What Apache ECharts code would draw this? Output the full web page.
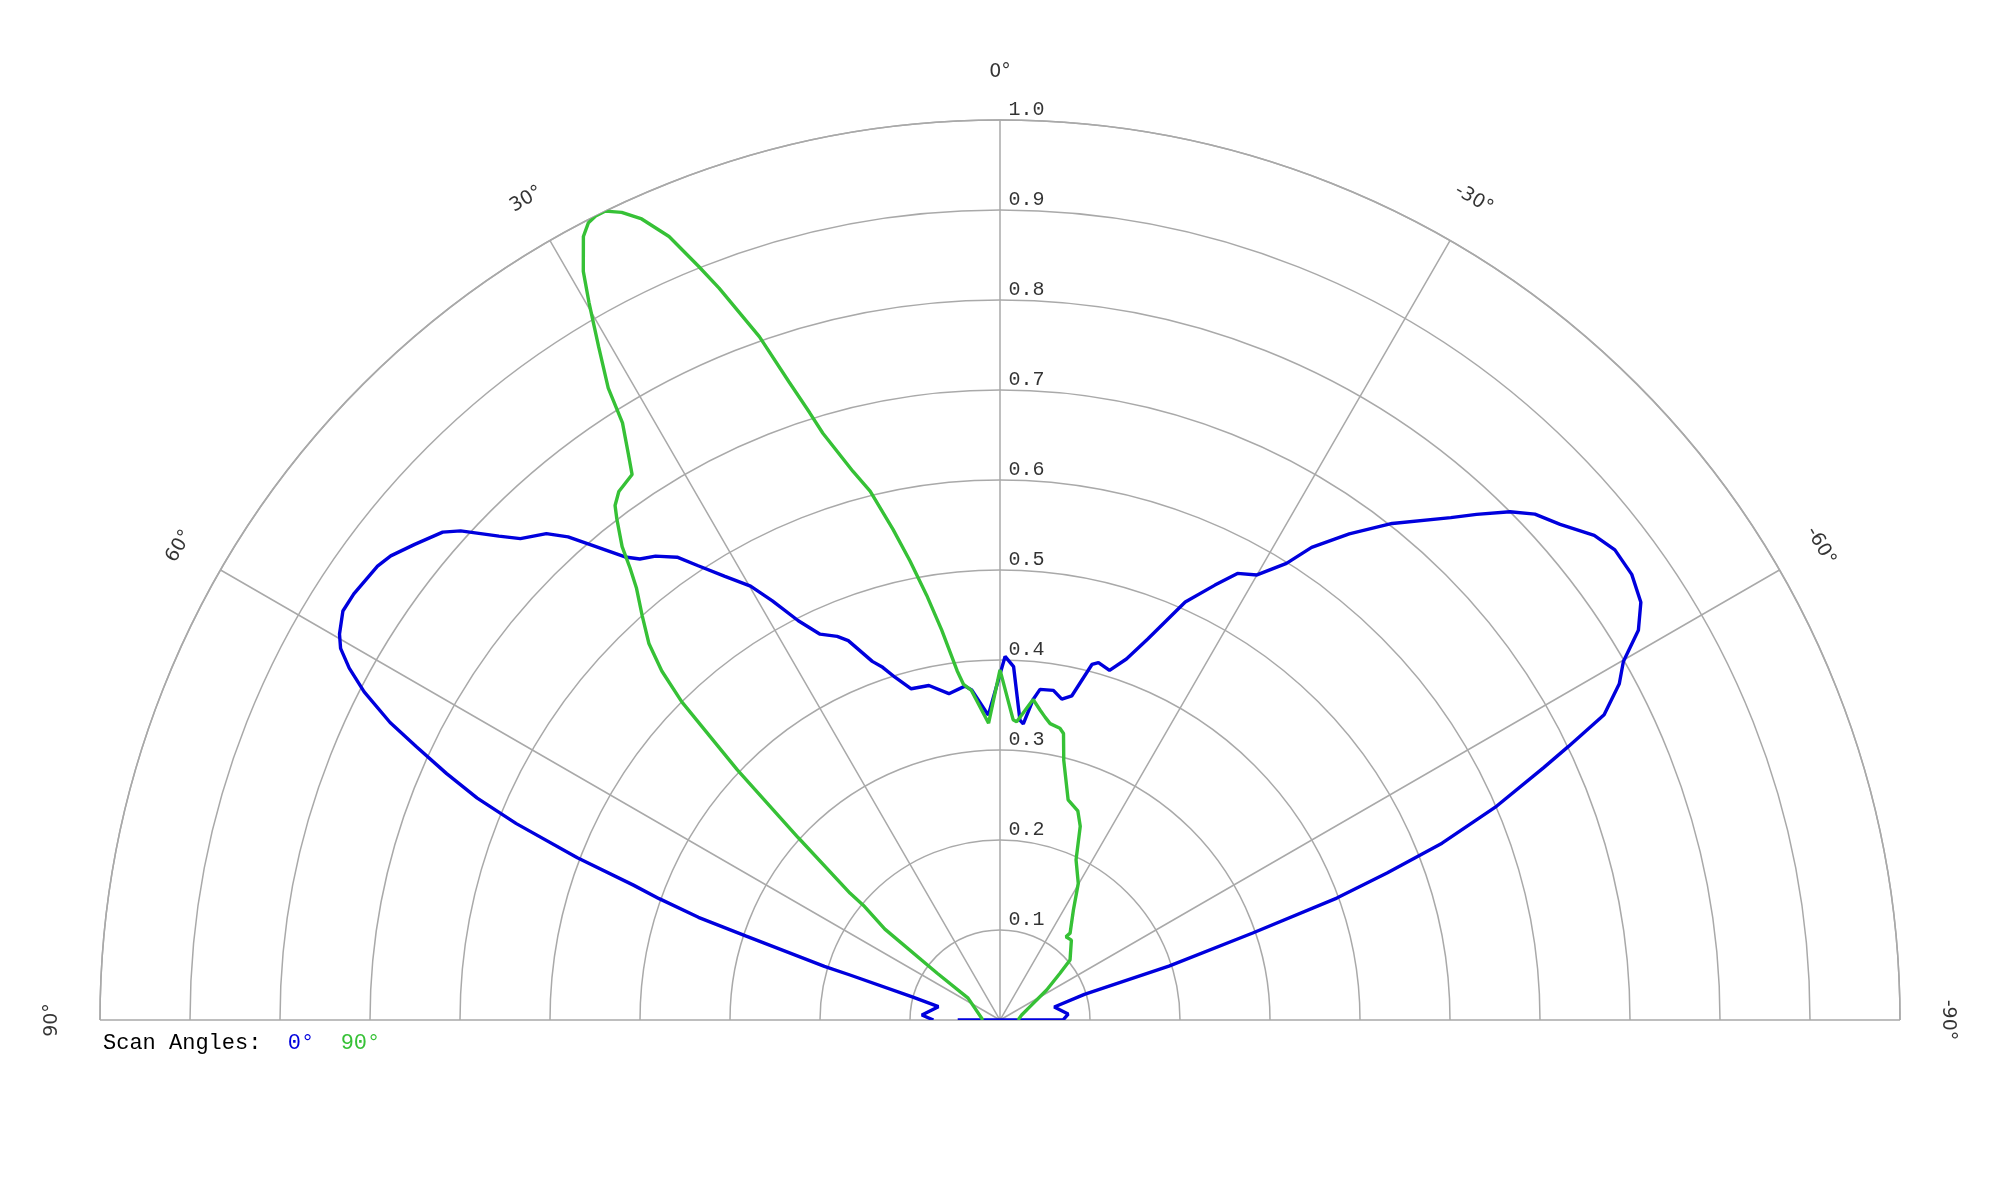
<!DOCTYPE html>
<html><head><meta charset="utf-8">
<script src="https://cdn.jsdelivr.net/npm/echarts@6/dist/echarts.min.js"></script>
<style>html,body{margin:0;padding:0;background:#fff}#c{width:2000px;height:1200px}</style>
</head><body><div id="c"></div><script>
// ---- data ----
const angleTicks = [90, 60, 30, 0, -30, -60, -90];
const angleTickLabels = ['90°', '60°', '30°', '0°', '-30°', '-60°', '-90°'];
const ringValues = [0.1, 0.2, 0.3, 0.4, 0.5, 0.6, 0.7, 0.8, 0.9, 1.0];
const ringLabels = ['0.1', '0.2', '0.3', '0.4', '0.5', '0.6', '0.7', '0.8', '0.9', '1.0'];
const legendTitle = 'Scan Angles:';
const seriesNames = ['0°', '90°'];

// Scan angle 0° (blue): pattern angle (deg) and normalized level
const blueAngles = [90, 86.3, 77.8, 75.3, 73.3, 73.0, 71.7, 71.2, 70.4, 69.8, 69.0, 67.9, 67.0, 66.0, 64.9, 64.0, 62.7, 61.6, 60.6, 59.7, 58.1, 56.6, 53.9, 52.7, 50.9, 48.8, 47.8, 46.0, 44.9, 43.0, 41.8, 40.8, 39.0, 38.0, 36.6, 34.9, 33.6, 31.8, 29.9, 28.5, 26.8, 25.0, 23.0, 21.8, 19.6, 18.4, 17.0, 15.0, 12.0, 8.9, 6.0, 4.9, 2.2, -0.8, -2.2, -3.8, -4.5, -5.9, -6.9, -9.2, -10.9, -12.5, -14.5, -15.4, -17.4, -19.3, -21.2, -23.9, -26.3, -28.0, -30.0, -32.1, -33.4, -35.7, -38.3, -41.9, -43.3, -45.1, -46.6, -48.5, -50.8, -52.6, -54.8, -56.9, -58.6, -60.1, -61.5, -63.2, -64.3, -65.1, -66.7, -68.2, -69.2, -70.1, -71.0, -72.3, -73.1, -76.5, -85.0, -90, 90];
const blueRadii = [0.074, 0.087, 0.070, 0.100, 0.174, 0.204, 0.297, 0.354, 0.402, 0.434, 0.503, 0.580, 0.631, 0.673, 0.716, 0.754, 0.795, 0.822, 0.841, 0.850, 0.860, 0.860, 0.856, 0.851, 0.838, 0.823, 0.809, 0.774, 0.755, 0.739, 0.720, 0.698, 0.662, 0.650, 0.642, 0.627, 0.606, 0.580, 0.556, 0.530, 0.497, 0.473, 0.463, 0.454, 0.423, 0.413, 0.398, 0.381, 0.380, 0.367, 0.373, 0.368, 0.339, 0.404, 0.393, 0.334, 0.330, 0.358, 0.370, 0.371, 0.363, 0.369, 0.408, 0.412, 0.407, 0.425, 0.454, 0.508, 0.539, 0.562, 0.571, 0.599, 0.629, 0.665, 0.703, 0.750, 0.772, 0.800, 0.818, 0.831, 0.852, 0.860, 0.859, 0.850, 0.831, 0.799, 0.783, 0.752, 0.701, 0.666, 0.601, 0.529, 0.460, 0.398, 0.297, 0.197, 0.098, 0.062, 0.076, 0.070, 0.047];

// Scan angle 90° (green)
const greenAngles = [90, 84.7, 55.6, 53.3, 51.7, 50.0, 49.8, 47.9, 46.4, 45.0, 44.1, 43.0, 41.5, 40.1, 39.3, 38.6, 37.4, 36.8, 35.8, 34.0, 33.3, 32.3, 31.8, 30.8, 29.8, 29.1, 28.0, 27.3, 26.7, 26.0, 25.1, 24.1, 22.9, 21.8, 21.0, 19.4, 18.3, 17.4, 16.8, 15.0, 13.8, 12.3, 11.1, 9.8, 8.5, 7.0, 6.2, 5.0, 2.2, 0, -2.5, -3.2, -5.9, -7.4, -8.5, -9.6, -11.6, -12.5, -13.8, -17.2, -20.4, -22.5, -25.4, -29.8, -33.7, -38.9, -38.4, -41.8, -49.4, -52.1, -57.3, -66.0, -77.0, -90];
const greenRadii = [0.019, 0.021, 0.043, 0.087, 0.163, 0.198, 0.218, 0.302, 0.403, 0.500, 0.540, 0.572, 0.600, 0.627, 0.649, 0.673, 0.701, 0.714, 0.724, 0.731, 0.752, 0.785, 0.826, 0.871, 0.919, 0.952, 0.986, 0.997, 1.0, 1.0, 0.991, 0.975, 0.945, 0.902, 0.871, 0.805, 0.747, 0.707, 0.681, 0.631, 0.605, 0.558, 0.520, 0.479, 0.438, 0.391, 0.375, 0.368, 0.330, 0.389, 0.334, 0.332, 0.358, 0.347, 0.340, 0.334, 0.331, 0.326, 0.297, 0.256, 0.248, 0.233, 0.197, 0.175, 0.147, 0.124, 0.118, 0.119, 0.1025, 0.0845, 0.0616, 0.0365, 0.0247, 0.020];

// ---- chart ----
const MONO = '"Liberation Mono", "Courier New", monospace';
const SANS = '"DejaVu Sans", Verdana, sans-serif';
const GRID = '#a9a9a9';
const BLUE = '#0000dd';
const GREEN = '#36c136';
const LABEL_R = 1.053;

const toPolar = (angles, radii) => angles.map((a, i) => [radii[i], a]);

const angleLabelData = angleTicks.map((a, i) => ({
  value: [LABEL_R, a],
  label: { formatter: angleTickLabels[i], rotate: a }
}));
const ringLabelData = ringValues.map((v, i) => ({
  value: [v, 0],
  label: { formatter: ringLabels[i] }
}));

const chart = echarts.init(document.getElementById('c'), null, { renderer: 'canvas' });
chart.setOption({
  animation: false,
  backgroundColor: '#ffffff',
  title: {
    text: '{a|' + legendTitle + '}  {b|' + seriesNames[0] + '}  {c|' + seriesNames[1] + '}',
    left: 103, top: 1032, padding: 0,
    textStyle: {
      fontFamily: MONO, fontSize: 22, fontWeight: 'normal', color: '#000',
      rich: {
        a: { fontFamily: MONO, fontSize: 22, color: '#000' },
        b: { fontFamily: MONO, fontSize: 22, color: BLUE },
        c: { fontFamily: MONO, fontSize: 22, color: GREEN }
      }
    }
  },
  polar: { center: [1000, 1020], radius: [0, 900] },
  angleAxis: {
    type: 'value', min: -90, max: 90, interval: 30,
    startAngle: 0, endAngle: 180, clockwise: false,
    axisLine: { show: true, lineStyle: { color: GRID, width: 1.5 } },
    axisTick: { show: false }, axisLabel: { show: false },
    splitLine: { show: true, lineStyle: { color: GRID, width: 1.5 } }
  },
  radiusAxis: {
    type: 'value', min: 0, max: 1, interval: 0.1,
    axisLine: { show: false }, axisTick: { show: false }, axisLabel: { show: false },
    splitLine: { show: true, lineStyle: { color: GRID, width: 1.5 } }
  },
  series: [
    {
      name: seriesNames[0], type: 'line', coordinateSystem: 'polar',
      data: toPolar(blueAngles, blueRadii), showSymbol: false, clip: false,
      lineStyle: { color: BLUE, width: 3.4 }, z: 3
    },
    {
      name: seriesNames[1], type: 'line', coordinateSystem: 'polar',
      data: toPolar(greenAngles, greenRadii), showSymbol: false, clip: false,
      lineStyle: { color: GREEN, width: 3.4 }, z: 4
    },
    {
      type: 'scatter', coordinateSystem: 'polar', data: angleLabelData, clip: false,
      symbolSize: 1, itemStyle: { color: 'rgba(0,0,0,0)' }, silent: true,
      label: { show: true, position: 'inside', fontFamily: SANS, fontSize: 19, color: '#000' }
    },
    {
      type: 'scatter', coordinateSystem: 'polar', data: ringLabelData, clip: false,
      symbolSize: 1, itemStyle: { color: 'rgba(0,0,0,0)' }, silent: true, z: 5,
      label: { show: true, position: [9, -10], align: 'left', verticalAlign: 'middle', fontFamily: MONO, fontSize: 20, color: '#000' }
    }
  ]
});
</script></body></html>
